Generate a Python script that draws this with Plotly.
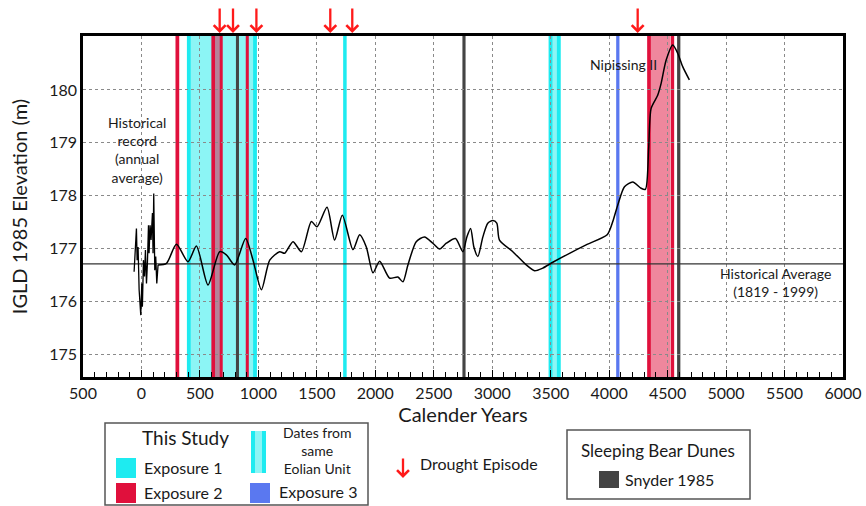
import plotly.graph_objects as go

# ---------------- data ----------------
hist_years = [-63, -43, -37, -29, -20, -6, 3, 8, 17, 26, 34, 43, 51, 60, 65, 74, 82, 94, 99, 105, 114, 122, 131, 142]
hist_level = [176.56, 177.38, 176.78, 177.03, 176.22, 175.74, 176.34, 175.90, 176.78, 176.47, 176.97, 176.34,
              176.72, 177.44, 176.91, 177.44, 177.16, 177.67, 176.91, 178.04, 176.59, 176.85, 176.34, 176.69]

paleo_years = [142, 214, 299, 398, 470, 569, 669, 726, 797, 891, 954, 1026, 1097, 1182, 1225, 1296, 1368,
               1453, 1501, 1587, 1652, 1718, 1809, 1866, 1923, 1980, 2037, 2122, 2193, 2236, 2279, 2350,
               2421, 2492, 2550, 2607, 2686, 2749, 2783, 2815, 2843, 2877, 2920, 2962, 3005, 3039, 3062,
               3176, 3291, 3362, 3432, 3518, 3661, 3803, 3983, 4031, 4073, 4131, 4202, 4273, 4310, 4338,
               4359, 4415, 4444, 4487, 4544, 4587, 4629, 4686]
paleo_level = [176.69, 176.72, 177.08, 176.75, 177.05, 176.31, 176.94, 176.88, 176.69, 177.19, 176.78, 176.22,
               176.78, 176.94, 176.91, 177.13, 176.94, 177.51, 177.41, 177.78, 177.16, 177.63, 176.98, 177.26,
               177.03, 176.54, 176.76, 176.44, 176.46, 176.37, 176.69, 177.13, 177.22, 177.10, 176.99, 177.10,
               177.19, 176.94, 177.22, 177.38, 177.03, 176.85, 177.22, 177.48, 177.53, 177.48, 177.16, 176.94,
               176.69, 176.58, 176.63, 176.74, 176.91, 177.07, 177.26, 177.51, 177.82, 178.17, 178.26, 178.14,
               178.12, 178.90, 179.65, 179.90, 180.12, 180.56, 180.85, 180.69, 180.44, 180.19]

historical_average = 176.71

exposure1_dates = [(1725, 1755)]
exposure1_units = [(389, 987), (3483, 3585)]      # dates from same eolian unit
exposure2_dates = [(291, 323), (892, 918)]
exposure2_units = [(598, 695), (4325, 4556)]
exposure3_dates = [(4060, 4088)]
snyder_dates = [(808, 834), (2745, 2772), (4581, 4609)]
drought_years = [669, 783, 983, 1615, 1803, 4244]

x_ticks = list(range(-500, 6001, 500))
x_tick_text = [str(abs(v)) for v in x_ticks]
x_minor = list(range(-500, 6001, 100))
y_ticks = [175, 176, 177, 178, 179, 180]

# ---------------- styles ----------------
CYAN = "#1EEBF0"
LCYAN = "#8CF5F5"
RED = "#E0103C"
PINK = "rgba(224,16,60,0.5)"
BLUE = "#5A78F0"
DARK = "#444444"
ARROW = "#FF1A1A"
TXT = "#1a1a1a"
FONT = "Lato"
EDGE = 32

L, R, T, B = 83, 843, 36, 377
W, H = R - L, B - T


def pxx(x):
    return (x - L) / W


def pxy(y):
    return (B - y) / H


shapes = []


def band(x0, x1, color):
    shapes.append(dict(type="rect", xref="x", yref="paper", x0=x0, x1=x1, y0=0, y1=1,
                       fillcolor=color, line=dict(width=0), layer="below"))


for a, b in exposure1_units:
    band(a, b, LCYAN)
    band(a, a + EDGE, CYAN)
    band(b - EDGE, b, CYAN)
for a, b in exposure1_dates:
    band(a, b, CYAN)
for a, b in exposure2_units:
    band(a + EDGE, b - EDGE, PINK)
    band(a, a + EDGE, RED)
    band(b - EDGE * 0.9, b, RED)
for a, b in exposure2_dates:
    band(a, b, RED)
for a, b in snyder_dates:
    band(a, b, DARK)
for a, b in exposure3_dates:
    band(a, b, BLUE)

fig = go.Figure()
fig.add_trace(go.Scatter(x=[x_ticks[0], x_ticks[-1]], y=[historical_average] * 2, mode="lines",
                         line=dict(color="#333333", width=1.2), hoverinfo="skip"))
fig.add_trace(go.Scatter(x=hist_years, y=hist_level, mode="lines",
                         line=dict(color="black", width=1.3)))
fig.add_trace(go.Scatter(x=paleo_years, y=paleo_level, mode="lines",
                         line=dict(color="black", width=1.5, shape="spline", smoothing=0.7)))

annotations = []
for yr in drought_years:
    annotations.append(dict(x=yr, y=1 + 3 / H, xref="x", yref="paper", ax=0, ay=-26, text="",
                            showarrow=True, arrowhead=4, arrowsize=1, arrowwidth=2.3,
                            arrowcolor=ARROW))


def txt(x, y, s, size, anchor="center", xanchor=None):
    annotations.append(dict(x=pxx(x), y=pxy(y), xref="paper", yref="paper", text=s,
                            showarrow=False, font=dict(family=FONT, size=size, color=TXT),
                            xanchor=xanchor or anchor, yanchor="middle", align="center"))


txt(137, 150, "Historical<br>record<br>(annual<br>average)", 14)
txt(623, 64, "Nipissing II", 14)
txt(775, 282, "Historical Average<br>(1819 - 1999)", 14)


def rect(x0, y0, x1, y1, fill, line=None):
    shapes.append(dict(type="rect", xref="paper", yref="paper", x0=pxx(x0), x1=pxx(x1),
                       y0=pxy(y1), y1=pxy(y0), fillcolor=fill,
                       line=dict(width=1.5 if line else 0, color=line or fill), layer="above"))


# legend box 1
rect(105, 423, 368, 505, "rgba(0,0,0,0)", "#555555")
txt(185, 437, "This Study", 19)
rect(116, 458, 136, 478, CYAN)
txt(142, 467, "Exposure 1", 16, xanchor="left")
rect(116, 483, 136, 503, RED)
txt(142, 492, "Exposure 2", 16, xanchor="left")
rect(251, 431, 266, 473, CYAN)
rect(255, 431, 262, 473, LCYAN)
txt(317, 450, "Dates from<br>same<br>Eolian Unit", 14)
rect(250, 483, 270, 503, BLUE)
txt(277, 491, "Exposure 3", 16, xanchor="left")
# drought legend
annotations.append(dict(x=pxx(403), y=pxy(478), xref="paper", yref="paper", ax=0, ay=-21, text="",
                        showarrow=True, arrowhead=4, arrowsize=1, arrowwidth=2.3, arrowcolor=ARROW))
txt(418, 463, "Drought Episode", 16, xanchor="left")
# legend box 2
rect(567, 430, 750, 499, "rgba(0,0,0,0)", "#555555")
txt(658, 450, "Sleeping Bear Dunes", 17)
rect(599, 471, 619, 488, DARK)
txt(623, 479, "Snyder 1985", 16, xanchor="left")

fig.update_layout(
    width=866, height=506,
    margin=dict(l=L, r=866 - R, t=T, b=506 - B, autoexpand=False),
    paper_bgcolor="white", plot_bgcolor="white",
    showlegend=False,
    shapes=shapes, annotations=annotations,
    font=dict(family=FONT, color=TXT),
    xaxis=dict(range=[-500, 6000], tickmode="array", tickvals=x_ticks, ticktext=x_tick_text,
               ticks="inside", ticklen=7, tickcolor="black", tickwidth=1.2,
               minor=dict(tickmode="array", tickvals=x_minor, ticks="inside", ticklen=5,
                          tickcolor="black", tickwidth=1, showgrid=False),
               showline=True, linecolor="black", linewidth=2.5, mirror=True,
               showgrid=True, gridcolor="#8a8a8a", griddash="dot", gridwidth=1,
               zeroline=False, tickfont=dict(size=16, color=TXT),
               title=dict(text="Calender Years", font=dict(size=20, color=TXT), standoff=4)),
    yaxis=dict(range=[174.57, 181.02], tickmode="array", tickvals=y_ticks,
               ticks="", showline=True, linecolor="black", linewidth=2.5, mirror=True,
               showgrid=True, gridcolor="#8a8a8a", griddash="dot", gridwidth=1,
               zeroline=False, tickfont=dict(size=16, color=TXT),
               title=dict(text="IGLD 1985 Elevation (m)", font=dict(size=20, color=TXT), standoff=17)),
)

fig.write_html("out.html", config={"displayModeBar": False},
               post_script="document.body.style.margin='0';")
